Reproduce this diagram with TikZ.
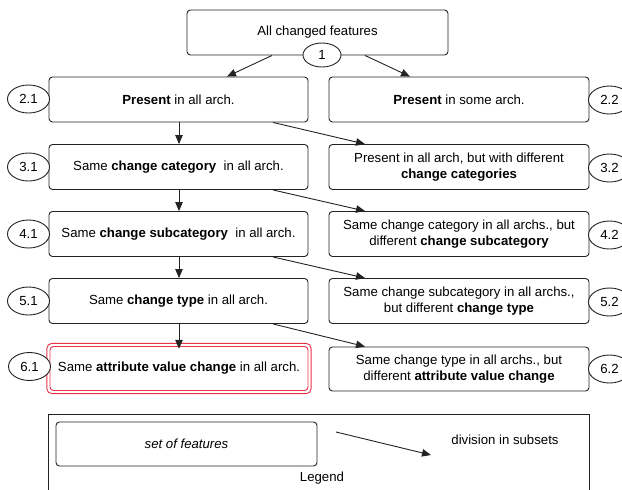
\documentclass[tikz,border=0pt]{standalone}
\usepackage{fontspec}
\setmainfont{Liberation Sans}
\usetikzlibrary{arrows.meta,shapes.geometric}
\definecolor{ln}{RGB}{35,35,35}
\definecolor{redbox}{RGB}{232,50,72}
\begin{document}
\begin{tikzpicture}[x=1pt,y=-1pt,
  every node/.style={font=\fontsize{13.2}{16}\selectfont, text=black},
  box/.style={draw=ln, line width=0.9pt, rounded corners=3.5pt, minimum width=260pt, minimum height=45pt, inner sep=0pt, align=center},
  tag/.style={draw=ln, line width=0.9pt, ellipse, fill=white, minimum width=42pt, minimum height=28pt, inner sep=0pt},
  arr/.style={draw=ln, line width=0.9pt, -{Triangle[length=9pt,width=7.5pt]}}
]
\useasboundingbox (0,0) rectangle (622,490);
\begin{scope}
\clip (0,0) rectangle (622,490);
% top
\node[box, minimum width=261pt] (top) at (317.5,32.5) {All changed features};
\node[tag, minimum width=38pt, minimum height=24pt] (t1) at (322,55) {1};

% left column
\node[box, minimum width=259pt] (l1) at (178.5,99.5) {\textbf{Present} in all arch.};
\node[box, minimum width=259pt] (l2) at (178.5,167) {Same \textbf{change category}\ \ in all arch.};
\node[box, minimum width=259pt] (l3) at (178.5,234) {Same \textbf{change subcategory}\ \ in all arch.};
\node[box, minimum width=259pt] (l4) at (178.5,301) {Same \textbf{change type} in all arch.};
\node[box, minimum width=258pt, draw=redbox, minimum height=44pt] (l5) at (179,368.5) {Same \textbf{attribute value change} in all arch.};
\draw[redbox, line width=0.9pt, rounded corners=5pt] ([shift={(-2.7,-2.7)}]l5.north west) rectangle ([shift={(2.7,2.7)}]l5.south east);

% right column
\node[box] (r1) at (459,99.5) {\textbf{Present} in some arch.};
\node[box] (r2) at (459,167) {Present in all arch, but with different\\\textbf{change categories}};
\node[box] (r3) at (459,234) {Same change category in all archs., but\\different \textbf{change subcategory}};
\node[box] (r4) at (459,301) {Same change subcategory in all archs.,\\but different \textbf{change type}};
\node[box, minimum height=44pt] (r5) at (459,369) {Same change type in all archs., but\\different \textbf{attribute value change}};

% tags
\node[tag] (e21) at (28.5,99) {2.1};
\node[tag] (e31) at (28.5,167) {3.1};
\node[tag] (e41) at (28.5,234) {4.1};
\node[tag] (e51) at (28.5,301) {5.1};
\node[tag] (e61) at (29.5,366.5) {6.1};
\node[tag] (e22) at (609.5,100) {2.2};
\node[tag] (e32) at (609.5,168) {3.2};
\node[tag] (e42) at (609.5,235) {4.2};
\node[tag] (e52) at (609.5,302) {5.2};
\node[tag] (e62) at (609.5,369) {6.2};

% arrows from top
\draw[arr] (top.south -| 272,0) -- (l1.north -| 227,0);
\draw[arr] (top.south -| 365,0) -- (r1.north -| 410,0);

% vertical arrows
\draw[arr] (l1.south -| 179,0) -- (l2.north -| 179,0);
\draw[arr] (l2.south -| 179,0) -- (l3.north -| 179,0);
\draw[arr] (l3.south -| 179,0) -- (l4.north -| 179,0);
\draw[arr] (l4.south -| 179,0) -- ([yshift=-2.7pt]l5.north -| 179,0);

% diagonal arrows
\draw[arr] (l1.south -| 273,0) -- (r2.north -| 365,0);
\draw[arr] (l2.south -| 273,0) -- (r3.north -| 365,0);
\draw[arr] (l3.south -| 273,0) -- (r4.north -| 365,0);
\draw[arr] (l4.south -| 273,0) -- (r5.north -| 365,0);

% legend
\node[draw=ln, line width=0.9pt, minimum width=541pt, minimum height=100pt, inner sep=0pt] (leg) at (318.5,464) {};
\node[box, minimum width=261pt, minimum height=44pt] (lbox) at (186.5,444) {\textit{set of features}};
\coordinate (la) at (336,432);
\coordinate (lb) at (431,455);
\draw[arr] (la) -- (lb);
\node (ltxt) at (505,440) {division in subsets};
\node (lleg) at (322,478) {Legend};
\end{scope}
\end{tikzpicture}
\end{document}
